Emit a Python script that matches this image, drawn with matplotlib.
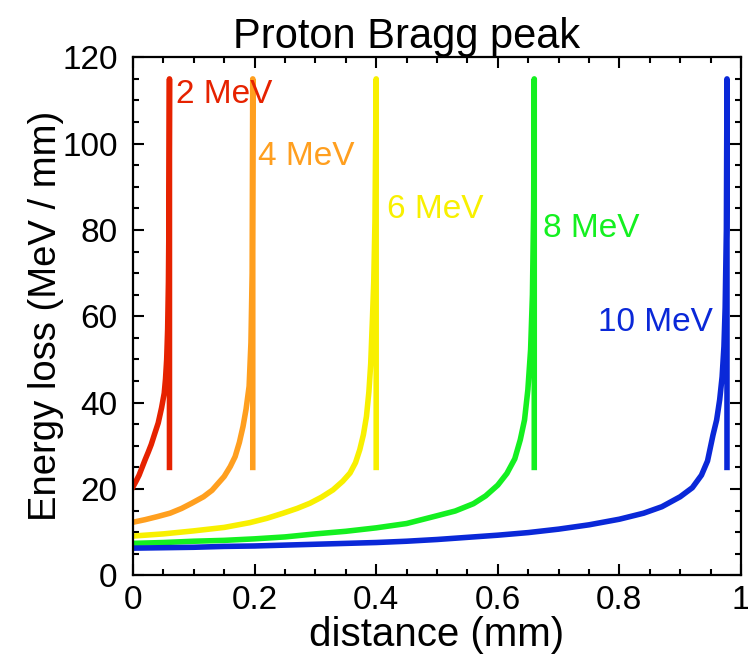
import matplotlib
matplotlib.use("Agg")
import matplotlib.pyplot as plt
from matplotlib.ticker import MultipleLocator

plt.rcParams['font.family'] = ['Liberation Sans', 'DejaVu Sans']

# energy loss curves (x in mm, y in MeV/mm)
# last point of each curve is the bottom of the drop at the end of range
x_2mev = [0, 0.005, 0.01, 0.015, 0.02, 0.025, 0.03, 0.035, 0.0415, 0.047, 0.0514,
          0.0535, 0.0554, 0.057, 0.0583, 0.0593, 0.06, 0.06]
y_2mev = [20.5, 21.8, 23.2, 25, 26.8, 28.5, 30.3, 32.5, 35.3, 38.8, 42.2,
          45.5, 50, 57, 68, 85, 115, 25]

x_4mev = [0, 0.02, 0.04, 0.061, 0.08, 0.0965, 0.116, 0.13, 0.14, 0.15, 0.16, 0.168,
          0.175, 0.181, 0.186, 0.191, 0.194, 0.196, 0.197, 0.197]
y_4mev = [12.3, 12.9, 13.6, 14.4, 15.5, 16.7, 18.2, 19.7, 21.3, 22.9, 25.2, 27.5,
          30.8, 34.5, 38.5, 43.8, 53.9, 70, 115, 25]

x_6mev = [0, 0.05, 0.1, 0.15, 0.192, 0.22, 0.247, 0.27, 0.291, 0.31, 0.329, 0.345,
          0.357, 0.366, 0.373, 0.379, 0.384, 0.388, 0.391, 0.394, 0.396, 0.398, 0.4, 0.4]
y_6mev = [9.1, 9.6, 10.3, 11.1, 12.2, 13.2, 14.4, 15.5, 16.7, 18.1, 19.8, 21.8,
          23.7, 26.1, 29.1, 32.6, 36.8, 42.5, 49, 60, 68, 82, 115, 25]

x_8mev = [0, 0.05, 0.1, 0.15, 0.2, 0.25, 0.3, 0.35, 0.4, 0.45, 0.5, 0.53, 0.56, 0.58,
          0.6, 0.615, 0.628, 0.637, 0.644, 0.6495, 0.654, 0.657, 0.659, 0.66, 0.66]
y_8mev = [7.4, 7.6, 7.9, 8.1, 8.45, 8.9, 9.6, 10.2, 11.0, 12.0, 13.8, 14.9, 16.6, 18.4,
          20.9, 23.6, 27, 31.4, 36, 43, 52.3, 65, 85, 115, 25]

x_10mev = [0, 0.05, 0.1, 0.15, 0.2, 0.25, 0.3, 0.35, 0.4, 0.45, 0.5, 0.55, 0.6, 0.65,
           0.7, 0.75, 0.8, 0.84, 0.87, 0.9, 0.92, 0.935, 0.945, 0.954, 0.96, 0.965,
           0.969, 0.972, 0.974, 0.976, 0.977, 0.977]
y_10mev = [6.3, 6.4, 6.5, 6.7, 6.8, 7.0, 7.2, 7.4, 7.6, 7.9, 8.3, 8.8, 9.3, 9.9,
           10.7, 11.7, 13.0, 14.4, 15.9, 18.2, 20.3, 23.2, 26.5, 32.5, 36, 40.7,
           46, 53, 62, 80, 115, 25]

labels = ['2 MeV', '4 MeV', '6 MeV', '8 MeV', '10 MeV']
colors = ['#e62200', '#ff9f1f', '#f8f000', '#14f020', '#0a28d8']
# label anchor positions (data coords)
label_x = [0.070, 0.206, 0.418, 0.674, 0.954]
label_y = [111.4, 97.1, 84.8, 80.3, 58.5]
label_ha = ['left', 'left', 'left', 'left', 'right']

curves = [(x_2mev, y_2mev), (x_4mev, y_4mev), (x_6mev, y_6mev),
          (x_8mev, y_8mev), (x_10mev, y_10mev)]

fig = plt.figure(figsize=(7.48, 6.57), dpi=100)
ax = fig.add_axes([0.1778, 0.1243, 0.8128, 0.7885])

for (xs, ys), c in zip(curves, colors):
    ax.plot(xs, ys, color=c, lw=4, solid_joinstyle='round')

for lab, c, lx, ly, ha in zip(labels, colors, label_x, label_y, label_ha):
    ax.text(lx, ly, lab, color=c, fontsize=24, ha=ha, va='center')

ax.set_xlim(0, 1)
ax.set_ylim(0, 120)
ax.xaxis.set_major_locator(MultipleLocator(0.2))
ax.xaxis.set_minor_locator(MultipleLocator(0.05))
ax.yaxis.set_major_locator(MultipleLocator(20))
ax.yaxis.set_minor_locator(MultipleLocator(5))
ax.set_xticks([0, 0.2, 0.4, 0.6, 0.8, 1.0])
ax.set_xticklabels(['0', '0.2', '0.4', '0.6', '0.8', '1'])

ax.tick_params(which='both', direction='in', top=True, right=True, width=1.5)
ax.tick_params(which='major', length=8, labelsize=24)
ax.tick_params(which='minor', length=4.5)
ax.tick_params(axis='y', pad=11)
ax.tick_params(axis='x', pad=7)
for s in ax.spines.values():
    s.set_linewidth(1.6)

ax.set_xlabel('distance (mm)', fontsize=29, labelpad=0)
ax.set_ylabel('Energy loss (MeV / mm)', fontsize=27.5, labelpad=-1)
ax.set_title('Proton Bragg peak', fontsize=30, pad=6, x=0.45)

fig.savefig('out.png', dpi=100)
